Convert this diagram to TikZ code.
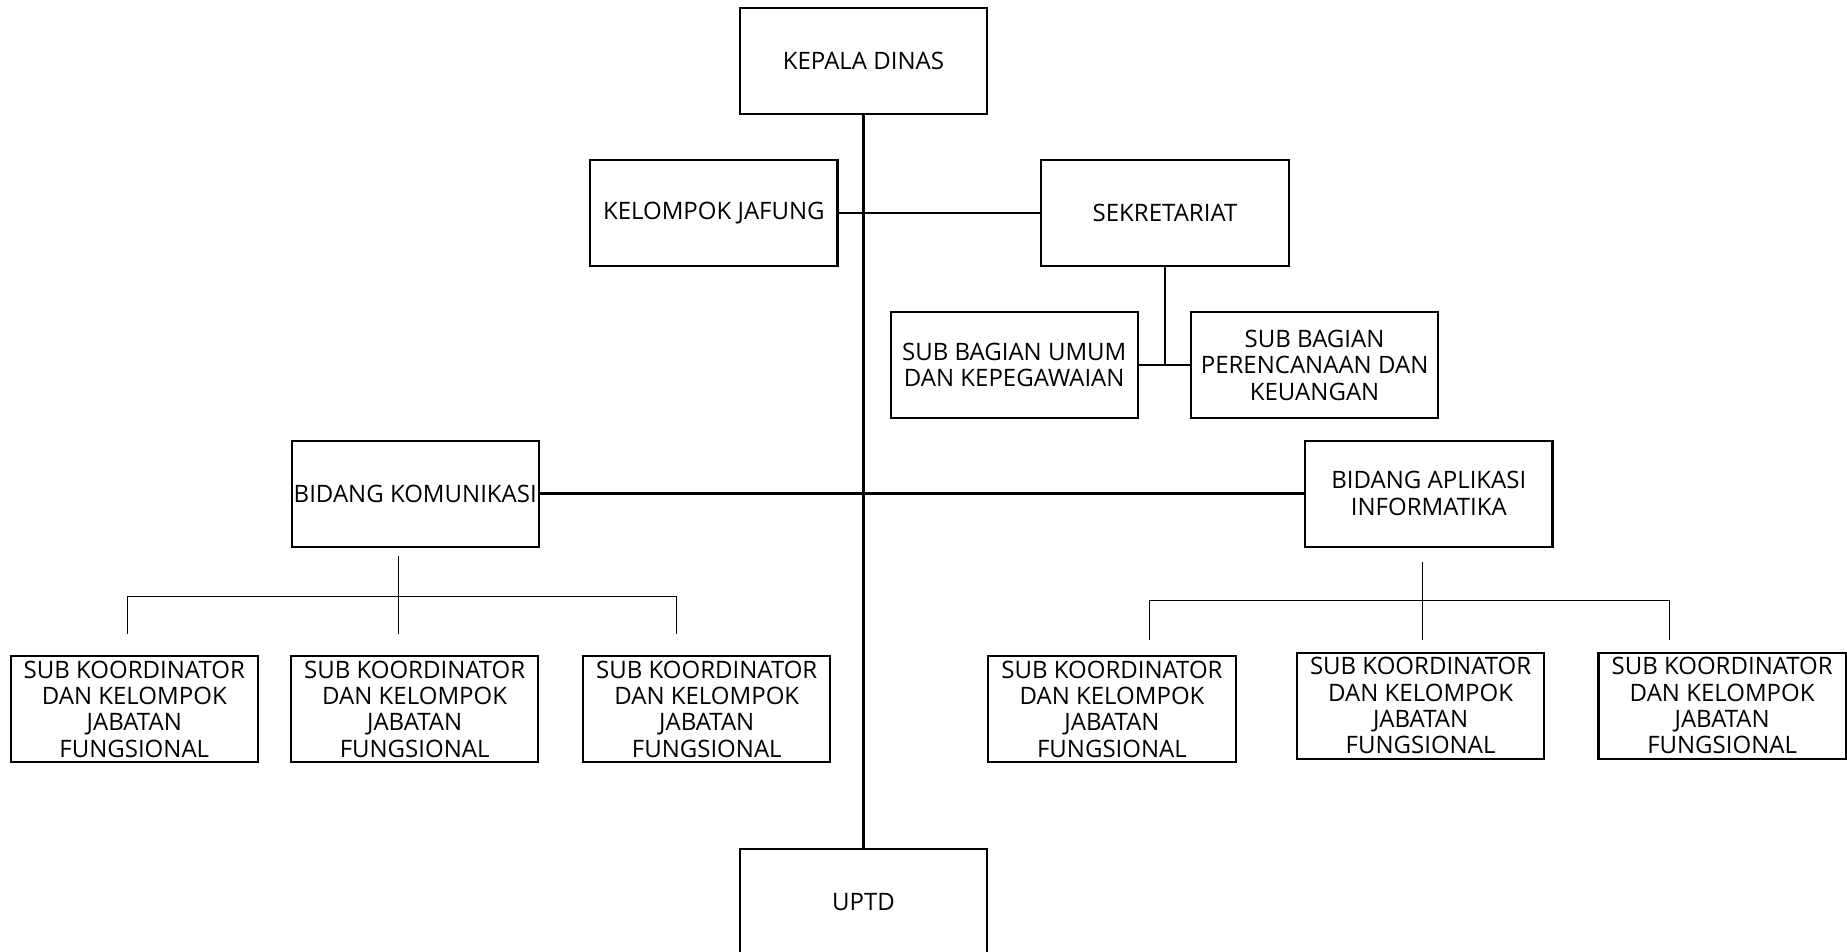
\documentclass[tikz,border=0pt]{standalone}
\usepackage{fontspec}
\setmainfont{Open Sans}
\begin{document}
\begin{tikzpicture}[x=0.02cm,y=-0.02cm]
                \tikzstyle{box}=[draw=black, line width=1pt, minimum width=4.2cm, minimum height=1.8cm, inner sep=0pt, align=center, font=\fontsize{11.6}{12.7}\selectfont]
                \tikzstyle{trunk} = [draw, line width=1.1pt, -]
                \tikzstyle{twig} = [draw, line width=0.5pt, -]

                \useasboundingbox (0,0) rectangle (1568,808);

                \node[box] (kepala) at (733,52) {KEPALA DINAS};
                \node[box] (jafung) at (606,181) {KELOMPOK JAFUNG};
                \node[box] (sekretariat) at (989,181) {SEKRETARIAT};
                \node[box] (umum) at (861,310) {SUB BAGIAN UMUM\\DAN KEPEGAWAIAN};
                \node[box] (keuangan) at (1116,310) {SUB BAGIAN\\PERENCANAAN DAN\\KEUANGAN};
                \node[box] (komunikasi) at (352.5,419) {BIDANG KOMUNIKASI};
                \node[box] (aplikasi) at (1213,419) {BIDANG APLIKASI\\INFORMATIKA};
                \node[box] (uptd) at (733,766) {UPTD};

                \foreach \name/\x/\y in {ka/114/602, kb/352/602, kc/600/602, aa/944/602, ab/1206/599, ac/1462/599}
                \node[box] (\name) at (\x,\y) {SUB KOORDINATOR\\DAN KELOMPOK\\JABATAN\\FUNGSIONAL};

                \path[trunk] (kepala) -- (uptd);
                \path[trunk] (jafung) -- (sekretariat);
                \path[trunk] (komunikasi) -- (aplikasi);
                \path[trunk] (sekretariat.south) -- (sekretariat.south |- umum.east);
                \path[trunk] (umum) -- (keuangan);

                % brackets under the two bidang
                \coordinate (kt) at (338,472);
                \coordinate (km) at (338,506);
                \coordinate (at) at (1208,477);
                \coordinate (am) at (1208,510);
                \path[twig] (kt) -- (km);
                \path[twig] (at) -- (am);
                \path[twig] (108,538) -- (108,506) -- (574,506) -- (574,538);
                \path[twig] (976,543) -- (976,510) -- (1417,510) -- (1417,543);
                \path[twig] (km) -- (338,538);
                \path[twig] (am) -- (1208,543);
            \end{tikzpicture}
\end{document}
